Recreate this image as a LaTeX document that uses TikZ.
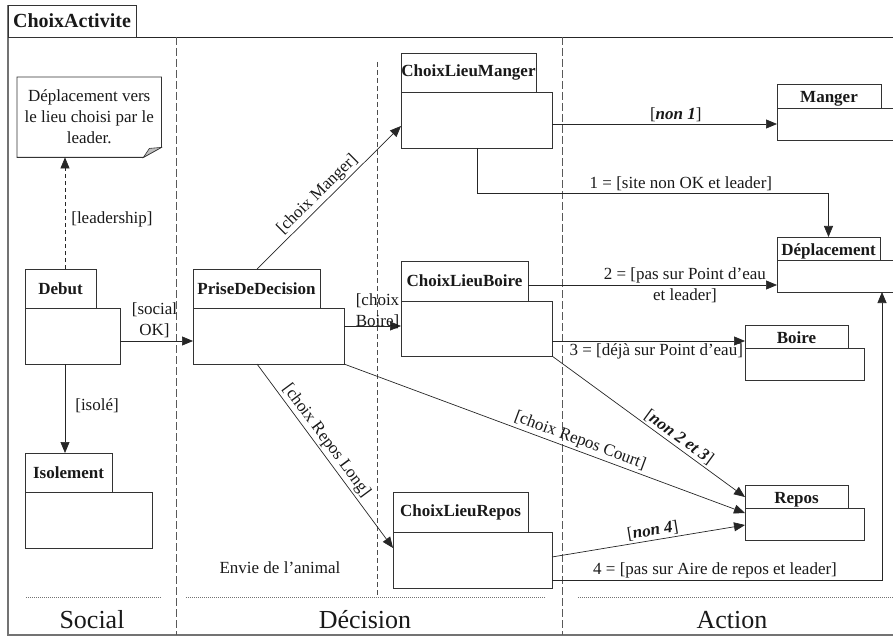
\documentclass[tikz,border=0pt]{standalone}
\usepackage{fontspec}
\setmainfont{Liberation Serif}
\usetikzlibrary{arrows.meta,calc}
\begin{document}
\begin{tikzpicture}[x=1pt,y=-1pt,
  every node/.style={font=\fontsize{17}{21}\selectfont, text=black!90},
  box/.style={draw=black!80, line width=0.8pt, anchor=north west, inner sep=0pt, outer sep=0pt},
  tab/.style={box, font=\fontsize{17}{21}\selectfont\bfseries},
  smalltab/.style={tab, text depth=0pt, text height=14pt},
  link/.style={draw=black!85, line width=0.7pt},
  arr/.style={link, -{Triangle[length=11pt,width=9pt]}},
  lbl/.style={inner sep=2pt},
  lane/.style={draw=black!65, line width=0.8pt, dash pattern=on 8pt off 3pt},
  sublane/.style={draw=black!70, line width=0.7pt, dash pattern=on 5pt off 3pt},
  sep/.style={draw=black!55, line width=0.6pt, dash pattern=on 1pt off 1pt},
  lanetitle/.style={font=\fontsize{26}{30}\selectfont}
]
\useasboundingbox (0,0) rectangle (893,636);
\clip (0,0) rectangle (893,636);

% activity frame and its title tab
\draw[draw=black!55, line width=1.2pt] (8,5) -- (8,635) -- (893,635);
\draw[draw=black!85, line width=0.9pt] (8,37) -- (893,37);
\node[box, line width=0.9pt, minimum width=128pt, minimum height=32pt,
      font=\fontsize{20}{24}\selectfont\bfseries] (title) at (8,5) {ChoixActivite};

% swimlanes
\draw[lane] (176,37) -- (176,635);
\draw[lane] (562,37) -- (562,635);
\draw[sublane] (377,62) -- (377,597);
\draw[sep] (26,597) -- (162,597);
\draw[sep] (186,597) -- (545,597);
\draw[sep] (578,597) -- (893,597);
\node[lanetitle] (social) at (92,620) {Social};
\node[lanetitle] (decision) at (365,620) {Décision};
\node[lanetitle] (action) at (732,620) {Action};
\node (envie) at (280,568) {Envie de l’animal};

% note
\node[anchor=north west, inner sep=0pt, minimum width=144pt, minimum height=80pt, align=center]
  (note) at (17,77) {Déplacement vers\\le lieu choisi par le\\leader.};
\draw[draw=black!80, line width=0.8pt] (note.north west) -- (note.north east)
  -- ([yshift=10pt]note.south east) -- ([xshift=-18pt]note.south east)
  -- (note.south west) -- cycle;
\filldraw[fill=black!25, draw=black!80, line width=0.6pt] ([yshift=10pt]note.south east)
  -- ([xshift=-18pt]note.south east) -- ([xshift=-12pt,yshift=9pt]note.south east) -- cycle;

% states: name tab + body
\node[tab, minimum width=71pt, minimum height=39pt] (debutT) at (25,269) {Debut};
\node[box, minimum width=95pt, minimum height=56pt] (debutB) at (25,308) {};
\node[tab, minimum width=87pt, minimum height=39pt] (isoT) at (25,453) {Isolement};
\node[box, minimum width=127pt, minimum height=56pt] (isoB) at (25,492) {};
\node[tab, minimum width=127pt, minimum height=39pt] (priseT) at (193,269) {PriseDeDecision};
\node[box, minimum width=151pt, minimum height=56pt] (priseB) at (193,308) {};
\node[tab, minimum width=135pt, minimum height=39pt] (mangerCT) at (401,53) {ChoixLieuManger};
\node[box, minimum width=151pt, minimum height=56pt] (mangerCB) at (401,92) {};
\node[tab, minimum width=127pt, minimum height=40pt] (boireCT) at (401,261) {ChoixLieuBoire};
\node[box, minimum width=151pt, minimum height=55pt] (boireCB) at (401,301) {};
\node[tab, minimum width=135pt, minimum height=40pt] (reposCT) at (393,492) {ChoixLieuRepos};
\node[box, minimum width=159pt, minimum height=56pt] (reposCB) at (393,532) {};
\node[smalltab, minimum width=104pt, minimum height=24pt] (mangerT) at (777,84) {Manger};
\node[box, minimum width=130pt, minimum height=32pt] (mangerB) at (777,108) {};
\node[smalltab, minimum width=103pt, minimum height=23pt] (deplT) at (777,237) {Déplacement};
\node[box, minimum width=130pt, minimum height=32pt] (deplB) at (777,260) {};
\node[smalltab, minimum width=103pt, minimum height=23pt] (boireT) at (745,325) {Boire};
\node[box, minimum width=119pt, minimum height=32pt] (boireB) at (745,348) {};
\node[smalltab, minimum width=103pt, minimum height=23pt] (reposT) at (745,485) {Repos};
\node[box, minimum width=119pt, minimum height=32pt] (reposB) at (745,508) {};

% transitions
\draw[arr, dash pattern=on 4pt off 3pt] ([xshift=40pt]debutT.north west) -- ([xshift=48pt]note.south west)
  node[lbl, pos=0.44, right, xshift=4pt] {[leadership]};
\draw[arr] ([xshift=40pt]debutB.south west) -- ([xshift=40pt]isoT.north west)
  node[lbl, pos=0.47, right, xshift=8pt] {[isolé]};
\draw[arr] ([yshift=-5pt]debutB.east) -- ([yshift=-5pt]debutB.east -| priseB.west)
  node[lbl, midway, above, align=center, yshift=1pt, xshift=-2pt] {[social\\OK]};
\draw[arr] ([xshift=64pt]priseT.north west) -- ([yshift=-34pt]mangerCB.north west)
  node[lbl, pos=0.47, above, sloped] {[choix Manger]};
\draw[arr] ([yshift=10pt]priseB.east) -- ([yshift=10pt]priseB.east -| boireCB.west)
  node[lbl, midway, above, align=left, yshift=-5pt, xshift=5pt] {[choix\\Boire]};
\draw[arr] ([xshift=64pt]priseB.south west) -- ([yshift=-16pt]reposCB.north west)
  node[lbl, pos=0.45, above, sloped] {[choix Repos Long]};
\draw[arr] (priseB.south east) -- ([yshift=-5pt]reposB.north west)
  node[lbl, pos=0.58, above, sloped] {[choix Repos Court]};
\draw[arr] (mangerCB.east |- mangerB.west) -- (mangerB.west)
  node[lbl, pos=0.55, above] {[\textbf{\textit{non 1}}]};
\draw[arr] ([xshift=76pt]mangerCB.south west) -- ++(0,45) -| (deplT.north)
  node[lbl, pos=0.29, above] {1 = [site non OK et leader]};
\draw[arr] ([yshift=-4pt]boireCT.east) -- ([yshift=-4pt]boireCT.east -| deplB.west)
  node[lbl, pos=0.63, align=center] {2 = [pas sur Point d’eau\\et leader]};
\draw[arr] ([yshift=7pt]boireT.south west -| boireCB.east) -- ([yshift=7pt]boireT.south west)
  node[lbl, pos=0.54, below] {3 = [déjà sur Point d’eau]};
\draw[arr] (boireCB.south east) -- ([yshift=11pt]reposT.south west)
  node[lbl, pos=0.63, above, sloped] {[\textbf{\textit{non 2 et 3}}]};
\draw[arr] ([yshift=3pt]reposCB.east) -- ([yshift=-17pt]reposB.north west)
  node[lbl, pos=0.53, above, sloped] {[\textbf{\textit{non 4}}]};
\draw[arr] ([yshift=-20pt]reposCB.east) -| ([xshift=105pt]deplB.south west)
  node[lbl, pos=0.247, above] {4 = [pas sur Aire de repos et leader]};
\end{tikzpicture}
\end{document}
